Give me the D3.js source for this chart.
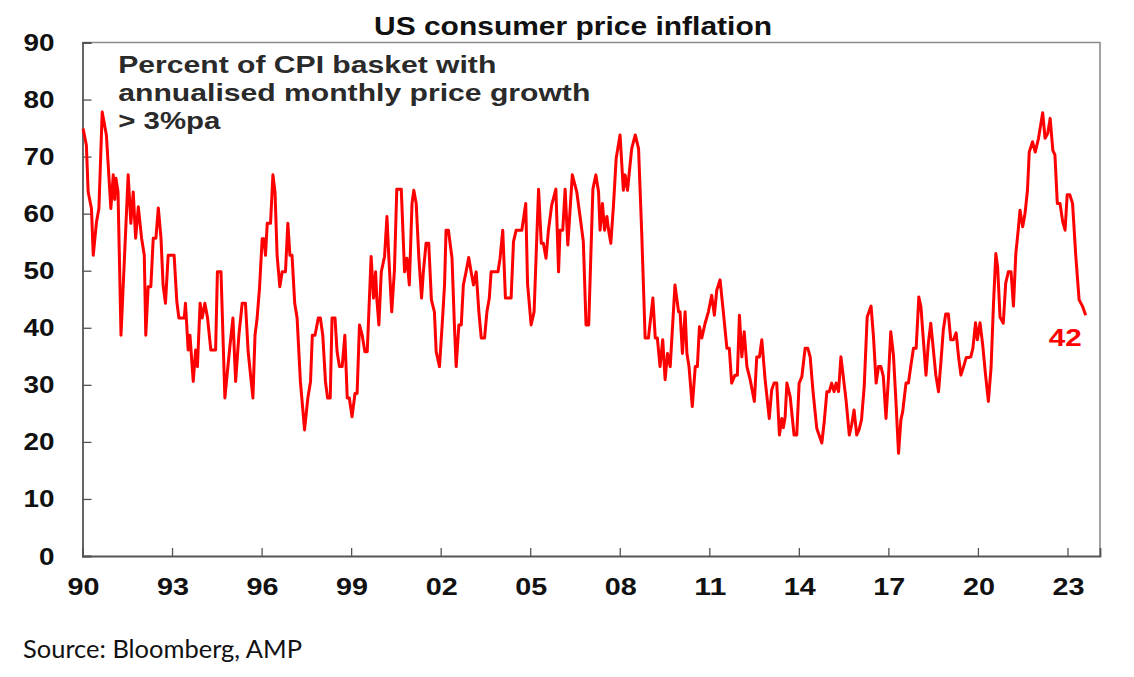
<!DOCTYPE html>
<html>
<head>
<meta charset="utf-8">
<script src="https://cdn.jsdelivr.net/npm/d3@7"></script>
<style>
  body { margin:0; background:#fff; }
  svg text { font-family: "Liberation Sans", Arial, sans-serif; }
</style>
</head>
<body>
<div class="main__area"></div>
<script>
// share of CPI basket with annualised monthly price growth > 3%pa
const dates=[
  1990.02,1990.13,1990.19,1990.30,1990.36,1990.47,1990.55,1990.66,1990.80,1990.95,
  1991.03,1991.08,1991.12,1991.19,1991.29,1991.53,1991.62,1991.70,1991.78,1991.87,
  1991.98,1992.07,1992.12,1992.20,1992.29,1992.37,1992.46,1992.54,1992.63,1992.70,
  1992.78,1992.87,1993.07,1993.16,1993.23,1993.41,1993.45,1993.54,1993.60,1993.71,
  1993.79,1993.85,1993.94,1994.01,1994.10,1994.19,1994.30,1994.46,1994.52,1994.64,
  1994.77,1994.92,1995.04,1995.13,1995.24,1995.35,1995.46,1995.55,1995.71,1995.78,
  1995.85,1995.93,1996.02,1996.08,1996.13,1996.19,1996.30,1996.38,1996.45,1996.52,
  1996.61,1996.69,1996.80,1996.88,1996.95,1997.02,1997.11,1997.19,1997.30,1997.44,
  1997.55,1997.64,1997.70,1997.79,1997.90,1997.97,1998.05,1998.14,1998.21,1998.30,
  1998.36,1998.46,1998.53,1998.61,1998.70,1998.79,1998.87,1998.94,1999.03,1999.13,
  1999.20,1999.28,1999.37,1999.46,1999.54,1999.67,1999.75,1999.82,1999.86,1999.93,
  2000.01,2000.12,2000.20,2000.26,2000.36,2000.45,2000.53,2000.68,2000.79,2000.87,
  2000.95,2001.04,2001.10,2001.18,2001.27,2001.36,2001.42,2001.51,2001.60,2001.69,
  2001.79,2001.85,2001.96,2002.05,2002.13,2002.18,2002.26,2002.38,2002.46,2002.52,
  2002.61,2002.69,2002.76,2002.85,2002.94,2003.02,2003.10,2003.19,2003.28,2003.36,
  2003.47,2003.55,2003.63,2003.69,2003.92,2003.99,2004.08,2004.17,2004.36,2004.44,
  2004.53,2004.72,2004.85,2004.91,2005.03,2005.13,2005.28,2005.37,2005.44,2005.53,
  2005.61,2005.72,2005.86,2005.95,2006.00,2006.09,2006.17,2006.26,2006.41,2006.56,
  2006.67,2006.78,2006.87,2006.96,2007.10,2007.20,2007.29,2007.34,2007.42,2007.49,
  2007.57,2007.62,2007.70,2007.79,2007.88,2008.01,2008.12,2008.18,2008.26,2008.40,
  2008.52,2008.63,2008.74,2008.85,2008.96,2009.11,2009.19,2009.26,2009.35,2009.44,
  2009.52,2009.60,2009.69,2009.85,2009.97,2010.02,2010.10,2010.19,2010.25,2010.32,
  2010.43,2010.53,2010.60,2010.67,2010.75,2010.86,2010.97,2011.08,2011.17,2011.25,
  2011.36,2011.47,2011.59,2011.67,2011.75,2011.86,2011.94,2012.01,2012.09,2012.17,
  2012.26,2012.37,2012.51,2012.59,2012.68,2012.76,2012.87,2013.01,2013.09,2013.17,
  2013.26,2013.35,2013.43,2013.48,2013.54,2013.60,2013.71,2013.84,2013.93,2014.01,
  2014.10,2014.21,2014.30,2014.38,2014.47,2014.60,2014.77,2014.85,2014.94,2015.02,
  2015.10,2015.18,2015.25,2015.33,2015.41,2015.49,2015.58,2015.69,2015.77,2015.85,
  2015.94,2016.02,2016.10,2016.19,2016.29,2016.42,2016.50,2016.59,2016.67,2016.75,
  2016.83,2016.92,2017.00,2017.08,2017.17,2017.25,2017.34,2017.42,2017.48,2017.59,
  2017.67,2017.75,2017.84,2017.93,2018.02,2018.09,2018.17,2018.26,2018.34,2018.42,
  2018.51,2018.59,2018.68,2018.76,2018.84,2018.92,2019.01,2019.09,2019.18,2019.27,
  2019.35,2019.43,2019.52,2019.61,2019.69,2019.76,2019.83,2019.92,2019.98,2020.07,
  2020.16,2020.25,2020.35,2020.44,2020.52,2020.60,2020.66,2020.74,2020.85,2020.93,
  2021.02,2021.11,2021.19,2021.27,2021.35,2021.41,2021.50,2021.58,2021.66,2021.72,
  2021.83,2021.92,2022.03,2022.17,2022.25,2022.34,2022.42,2022.51,2022.58,2022.66,
  2022.75,2022.84,2022.92,2022.99,2023.08,2023.17,2023.28,2023.39,2023.51,2023.61
];
const values=[
  74.9,72.0,63.8,60.9,52.7,58.6,60.9,77.8,73.8,60.9,
  66.8,62.5,66.2,63.8,38.7,66.8,58.3,63.8,55.7,61.2,
  55.7,52.7,38.7,47.2,47.2,55.7,55.7,61.0,55.7,47.5,
  44.3,52.7,52.7,44.6,41.7,41.7,44.3,36.1,38.7,30.6,
  36.1,33.2,44.3,41.7,44.3,41.7,36.1,36.1,49.8,49.8,
  27.7,35.8,41.7,30.6,38.7,44.3,44.3,35.8,27.7,38.7,
  41.7,46.9,55.6,55.6,52.7,58.3,58.3,66.8,63.8,52.7,
  47.2,49.8,49.8,58.3,52.7,52.7,44.3,41.7,30.6,22.1,
  27.7,30.6,38.7,38.7,41.7,41.7,38.7,30.6,27.7,27.7,
  41.7,41.7,35.8,33.2,33.2,38.7,27.7,27.7,24.4,28.5,
  28.5,40.5,38.7,35.8,35.8,52.5,45.2,49.8,45.2,40.5,
  49.8,52.5,59.5,52.7,42.8,50.0,64.3,64.3,49.8,52.2,
  47.5,61.8,64.1,61.8,52.2,45.2,49.8,54.8,54.8,44.9,
  42.8,35.8,33.2,40.5,47.5,57.1,57.1,52.2,40.5,33.2,
  40.5,40.5,47.5,49.8,52.3,49.8,47.5,49.8,42.8,38.2,
  38.2,42.8,45.2,49.8,49.8,52.2,57.1,45.2,45.2,55.1,
  57.1,57.1,61.8,47.8,40.5,42.8,64.3,54.8,54.8,52.2,
  57.1,61.5,64.3,49.8,57.1,57.1,64.3,54.5,66.8,63.8,
  59.5,55.1,40.5,40.5,64.3,66.8,63.8,57.1,61.8,57.1,
  59.5,57.3,54.8,61.5,69.7,73.8,64.1,66.8,64.1,71.4,
  73.8,71.4,56.0,38.2,38.2,45.2,38.2,38.2,33.2,37.9,
  30.9,35.5,33.2,47.5,42.8,42.8,35.5,42.8,35.5,33.2,
  26.2,33.2,33.2,40.2,38.2,40.8,42.8,45.7,42.2,46.6,
  48.4,42.8,36.4,36.4,30.3,31.7,31.7,42.2,34.9,39.3,
  33.2,30.9,27.1,34.9,34.9,37.9,30.9,24.1,29.1,30.3,
  30.3,21.2,24.1,22.5,24.3,30.3,27.9,21.2,21.2,30.3,
  31.4,36.4,36.4,34.9,29.1,22.4,19.8,23.5,28.8,28.8,
  30.3,28.8,30.3,28.8,34.9,31.4,27.4,21.2,23.0,25.6,
  21.2,22.2,23.9,29.7,41.9,43.8,38.5,30.3,33.2,33.2,
  31.5,24.1,31.0,39.3,35.2,27.4,18.0,23.9,25.3,30.3,
  30.3,33.2,36.4,36.4,45.4,43.7,38.0,31.7,37.3,40.8,
  36.0,31.7,28.8,34.0,39.6,42.4,42.4,37.9,37.9,39.1,
  35.0,31.7,33.2,34.8,34.8,34.9,36.4,40.9,37.9,40.9,
  37.0,32.0,27.1,33.0,44.0,53.0,50.7,41.9,40.8,47.8,
  49.8,49.8,43.8,53.0,57.1,60.6,57.7,60.1,64.1,70.8,
  72.6,70.8,73.2,77.7,73.2,74.1,76.7,71.1,70.3,61.8,
  61.8,58.6,57.1,63.3,63.3,61.8,52.5,44.9,43.7,42.2
];
const yTickValues=[0,10,20,30,40,50,60,70,80,90];
const xTickYears=[1990,1993,1996,1999,2002,2005,2008,2011,2014,2017,2020,2023];
const title="US consumer price inflation";
const subtitleLines=["Percent of CPI basket with","annualised monthly price growth","> 3%pa"];
const sourceText="Source: Bloomberg, AMP";

const width=1134;
const height=677;
const plotLeft=82.5, plotRight=1100, plotTop=42.5, plotBottom=556;

const svgTag=d3.select(".main__area").append("svg")
    .attr("width", width)
    .attr("height", height);

const x=d3.scaleLinear().domain([1990, 2024.09]).range([plotLeft, plotRight]);
const y=d3.scaleLinear().domain([0, 90]).range([plotBottom, plotTop]);

// frame (top + right lighter grey)
svgTag.append("path")
    .attr("d", `M${plotLeft},${plotTop}H${plotRight}V${plotBottom}`)
    .attr("fill","none").attr("stroke","#8c8c8c").attr("stroke-width",1.6);

// y axis, ticks point inwards
const yAxis=svgTag.append("g")
    .attr("transform", `translate(${plotLeft},0)`)
    .call(d3.axisRight(y).tickValues(yTickValues).tickSize(9).tickFormat(""));
yAxis.select(".domain").attr("stroke","#555").attr("stroke-width",1.8);
yAxis.selectAll(".tick line").attr("stroke","#555").attr("stroke-width",1.3);

yTickValues.forEach(v=>{
    const label=String(v);
    svgTag.append("text")
        .attr("x", 54.5).attr("y", y(v)+8.5)
        .attr("text-anchor","end")
        .attr("font-size",24).attr("font-weight","bold").attr("fill","#111")
        .attr("textLength", label.length*15.5).attr("lengthAdjust","spacingAndGlyphs")
        .text(label);
});

// x axis, ticks point up
const xAxis=svgTag.append("g")
    .attr("transform", `translate(0,${plotBottom})`)
    .call(d3.axisTop(x).tickValues(xTickYears).tickSize(8).tickFormat(""));
xAxis.select(".domain").attr("stroke","#555").attr("stroke-width",1.8);
xAxis.selectAll(".tick line").attr("stroke","#555").attr("stroke-width",1.3);

xTickYears.forEach(yr=>{
    svgTag.append("text")
        .attr("x", x(yr)+1).attr("y", 595)
        .attr("text-anchor","middle")
        .attr("font-size",24).attr("font-weight","bold").attr("fill","#111")
        .attr("textLength", 32).attr("lengthAdjust","spacingAndGlyphs")
        .text(String(yr).slice(2));
});

// the series
const series=dates.map((d,i)=>({ date:d, value:values[i] }));
svgTag.append("path")
    .datum(series)
    .attr("fill","none")
    .attr("stroke","#ff0000")
    .attr("stroke-width",3)
    .attr("stroke-linejoin","round")
    .attr("d", d3.line().x(d=>x(d.date)).y(d=>y(d.value)));

// last value label
const last=series[series.length-1];
svgTag.append("text")
    .attr("x", x(last.date)-37).attr("y", y(last.value)+31)
    .attr("font-size",24).attr("font-weight","bold").attr("fill","#ff0000")
    .attr("textLength", 33).attr("lengthAdjust","spacingAndGlyphs")
    .text(Math.round(last.value));

// title + subtitle
svgTag.append("text")
    .attr("x", 374).attr("y", 35)
    .attr("font-size",26).attr("font-weight","bold").attr("fill","#111")
    .attr("textLength", 398).attr("lengthAdjust","spacingAndGlyphs")
    .text(title);

const subLengths=[378,472,102];
subtitleLines.forEach((line,i)=>{
    svgTag.append("text")
        .attr("x", 118.3).attr("y", 72.7+i*28.3)
        .attr("font-size",23).attr("font-weight","bold").attr("fill","#2a2a2a")
        .attr("textLength", subLengths[i]).attr("lengthAdjust","spacingAndGlyphs")
        .text(line);
});

svgTag.append("text")
    .attr("x", 23).attr("y", 658)
    .style("font-family","Lato, 'Open Sans', sans-serif")
    .attr("font-size",25).attr("fill","#111")
    .attr("textLength", 279).attr("lengthAdjust","spacingAndGlyphs")
    .text(sourceText);
</script>
</body>
</html>
